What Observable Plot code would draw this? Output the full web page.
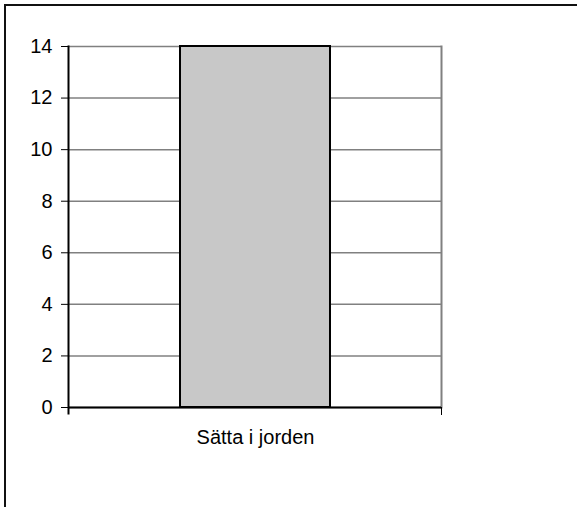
<!DOCTYPE html>
<html>
<head>
<meta charset="utf-8">
<script src="https://cdn.jsdelivr.net/npm/d3@7"></script>
<script src="https://cdn.jsdelivr.net/npm/@observablehq/plot@0.6"></script>
<style>
  html, body { margin: 0; padding: 0; background: #fff; overflow: hidden; width: 577px; height: 507px; }
  #wrap { position: relative; width: 577px; height: 507px; }
  #border { position: absolute; left: 4px; top: 4px; width: 700px; height: 700px; border: 2px solid #111; box-sizing: border-box; }
  #chart { position: absolute; left: 0; top: 0; }
</style>
</head>
<body>
<div id="wrap"><div id="border"></div><div id="chart"></div></div>
<script>
const categories = ["Sätta i jorden"];
const values = [14];
const yTicks = [0, 2, 4, 6, 8, 10, 12, 14];

const data = categories.map((c, i) => ({category: c, value: values[i]}));

const W = 577, H = 507;
const mL = 68, mR = 136, mT = 46, mB = 100;
const plotH = H - mT - mB;

const chart = Plot.plot({
  width: W,
  height: H,
  marginLeft: mL,
  marginRight: mR,
  marginTop: mT,
  marginBottom: mB,
  style: {fontFamily: "'Liberation Sans', Arial, sans-serif", fontSize: "20px", color: "#000", background: "transparent", overflow: "visible"},
  x: {domain: categories, padding: 0.4265, axis: null, label: null},
  y: {domain: [0, 14], axis: null, label: null},
  marks: [
    Plot.ruleY(yTicks, {stroke: "#808080", strokeWidth: 1.5}),
    Plot.frame({anchor: "right", stroke: "#808080", strokeWidth: 2}),
    Plot.barY(data, {x: "category", y: "value", fill: "#c8c8c8", stroke: "#000", strokeWidth: 2}),
    Plot.axisY({ticks: yTicks, tickSize: 7, tickPadding: 9, tickFormat: d => String(d), label: null, stroke: "#000", strokeWidth: 1, fontSize: 20, color: "#000"}),
    Plot.frame({anchor: "left", stroke: "#000", strokeWidth: 2, insetBottom: -6}),
    Plot.frame({anchor: "right", stroke: "#000", strokeWidth: 1, insetTop: plotH, insetBottom: -7}),
    Plot.ruleY([0], {stroke: "#000", strokeWidth: 2}),
    Plot.axisX({tickSize: 0, tickPadding: 22, label: null, fontSize: 20, color: "#000"})
  ]
});
document.getElementById("chart").appendChild(chart);
</script>
</body>
</html>
